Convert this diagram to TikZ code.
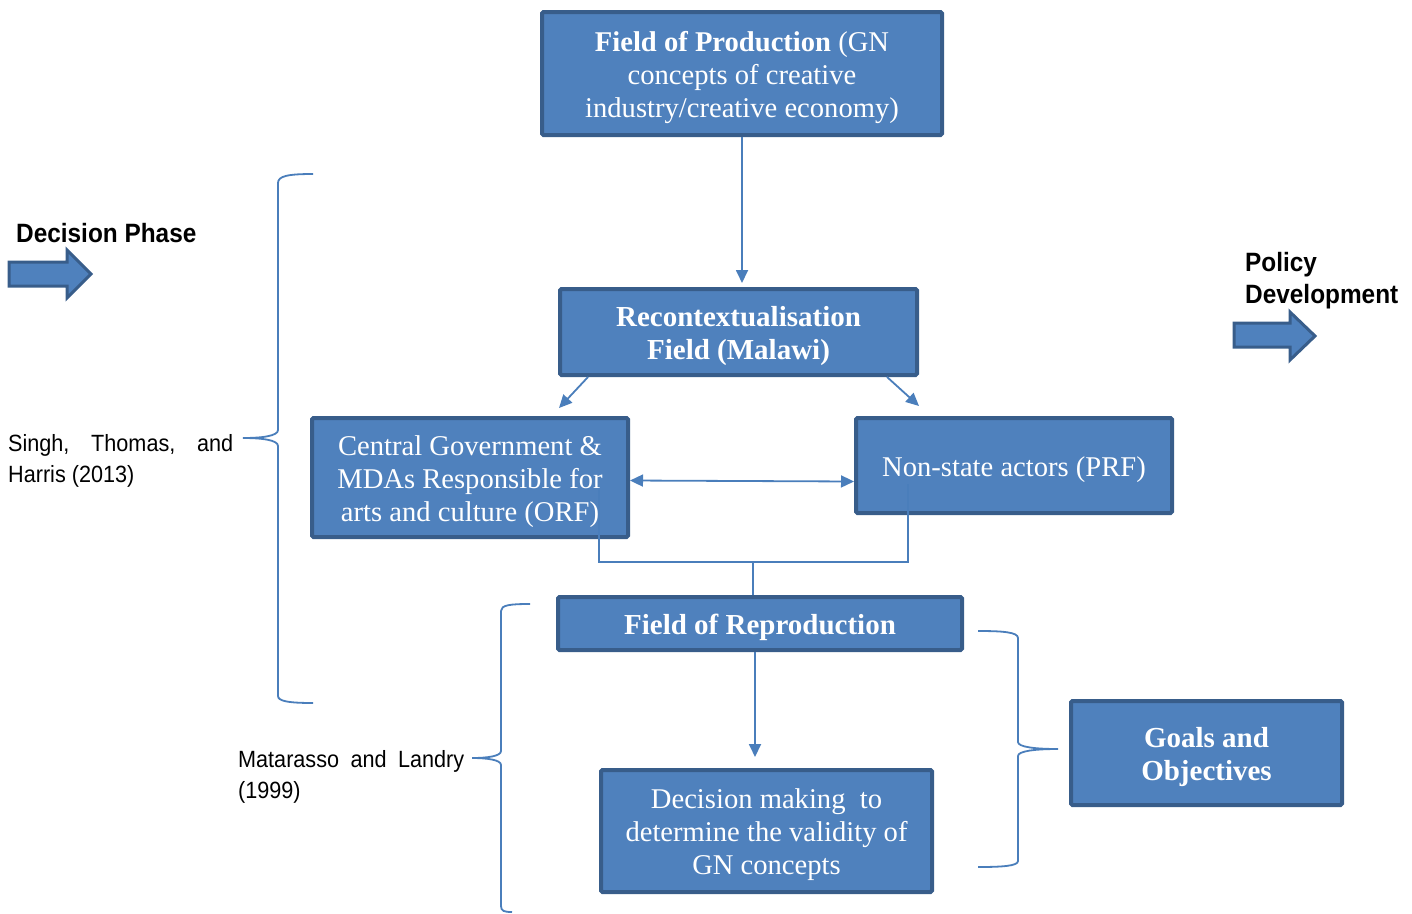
\documentclass[tikz,border=0pt]{standalone}
\usepackage{fontspec}
\setmainfont{Liberation Serif}
\newfontfamily\arialn[FakeStretch=0.92]{Liberation Sans}
\usetikzlibrary{arrows.meta,calc}
\definecolor{boxfill}{HTML}{4F81BD}
\definecolor{boxedge}{HTML}{385D8A}
\definecolor{linkc}{HTML}{4A7EBB}
\newcommand{\tallstrut}{\rule{0pt}{0.95em}}
\tikzset{
  fieldbox/.style={draw=boxedge, fill=boxfill, line width=4pt, text=white, align=center,
    inner sep=0pt, rounded corners=1.5pt, font=\fontsize{28.6}{33}\selectfont},
  boldfield/.style={fieldbox, font=\bfseries\fontsize{29}{33}\selectfont},
  link/.style={draw=linkc, line width=1.8pt},
  tipped/.style={-{Triangle[length=13pt,width=12pt]}},
  bothtip/.style={{Triangle[length=13pt,width=12pt]}-{Triangle[length=13pt,width=12pt]}},
  brace/.style={draw=linkc, line width=1.8pt},
  blockarrow/.style={draw=boxedge, fill=boxfill, line width=3pt, line join=miter},
  headlabel/.style={inner sep=0pt, align=left, font=\arialn\bfseries\fontsize{26.5}{32}\selectfont},
  citelabel/.style={inner sep=0pt, align=left, font=\arialn\fontsize{23.5}{31}\selectfont}
}
\begin{document}
\begin{tikzpicture}[x=1pt,y=-1pt]
\useasboundingbox (0,0) rectangle (1412,913);

% boxes
\node[fieldbox, minimum width=400pt, minimum height=123pt] (prod) at (742,73.5)
  {\tallstrut\textbf{Field of Production} (GN\\concepts of creative\\industry/creative economy)};
\node[boldfield, minimum width=357pt, minimum height=86pt] (rec) at (738.5,332)
  {\tallstrut Recontextualisation\\Field (Malawi)};
\node[fieldbox, minimum width=316pt, minimum height=119pt] (cg) at (470,477.5)
  {\tallstrut Central Government \&\\MDAs Responsible for\\arts and culture (ORF)};
\node[fieldbox, minimum width=316pt, minimum height=95pt] (ns) at (1014,465.5)
  {\tallstrut Non-state actors (PRF)};
\node[boldfield, minimum width=404pt, minimum height=53pt] (rep) at (760,623.5)
  {\tallstrut Field of Reproduction};
\node[fieldbox, minimum width=331pt, minimum height=122pt] (dec) at (766.5,831)
  {\tallstrut Decision making\ \ to\\determine the validity of\\GN concepts};
\node[boldfield, minimum width=271pt, minimum height=104pt] (goal) at (1206.5,753)
  {\tallstrut Goals and\\Objectives};

% connectors
\draw[link,tipped,shorten >=4pt] (prod.south) -- (prod.south |- rec.north);
\draw[link,tipped] ($(rec.south west)+(30,0)$) -- ($(cg.north east)+(-71,-8)$);
\draw[link,tipped] ($(rec.south east)+(-32,0)$) -- ($(ns.north west)+(65,-10)$);
\draw[link,bothtip] ($(cg.east)+(0,3)$) -- ($(ns.west)+(0,16)$);
\coordinate (jn) at (753,562);
\draw[link] ($(cg.south east)+(-31,-50)$) |- (jn) -| ($(ns.south west)+(54,-31)$);
\draw[link] (jn) -- (jn |- rep.north);
\draw[link,tipped,shorten >=11pt] ($(rep.south)+(-5,0)$) coordinate (rs) -- (rs |- dec.north);

% braces
\draw[brace] (313,174) .. controls (288,174) and (278,176) .. (278,183) -- (278,430)
  .. controls (278,436) and (262,438) .. (243,438)
  .. controls (262,438) and (278,440) .. (278,446) -- (278,696)
  .. controls (278,701) and (288,703) .. (313,703);
\draw[brace] (530,604) .. controls (510,604) and (501,605) .. (501,611) -- (501,751)
  .. controls (501,756) and (488,758) .. (472,758)
  .. controls (488,758) and (501,760) .. (501,765) -- (501,906)
  .. controls (501,911) and (504,912) .. (512,912);
\draw[brace] (978,631) .. controls (1002,631) and (1018,632) .. (1018,638) -- (1018,742)
  .. controls (1018,747) and (1035,749) .. (1058,749)
  .. controls (1035,749) and (1018,751) .. (1018,756) -- (1018,861)
  .. controls (1018,866) and (1002,867) .. (978,867);

% block arrows
\draw[blockarrow] (9,262) -- (67,262) -- (67,250) -- (91,274) -- (67,298) -- (67,286) -- (9,286) -- cycle;
\draw[blockarrow] (1234,323) -- (1290,323) -- (1290,312) -- (1315,336) -- (1290,360) -- (1290,347) -- (1234,347) -- cycle;

% labels
\node[headlabel, anchor=base west] (dp) at (16,242) {Decision Phase};
\node[headlabel, anchor=north west] (pd) at (1245,252) {Policy\\Development};
\node[citelabel, anchor=north west] (sth) at (8,434)
  {\hbox to 225pt{Singh,\hfill Thomas,\hfill and}\\Harris (2013)};
\node[citelabel, anchor=north west] (ml) at (238,750)
  {\hbox to 226pt{Matarasso\hfill and\hfill Landry}\\(1999)};
\end{tikzpicture}
\end{document}
